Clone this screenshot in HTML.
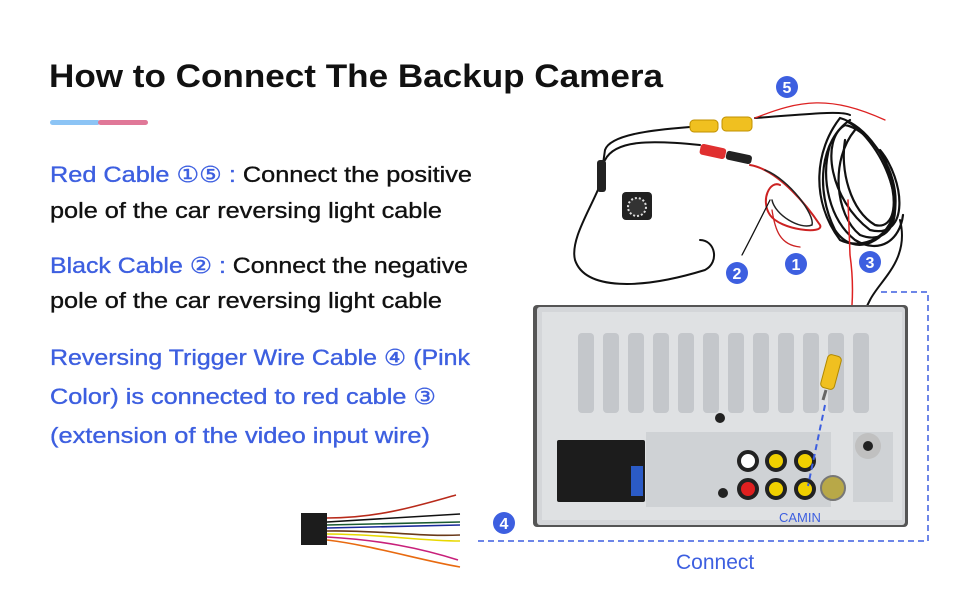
<!DOCTYPE html>
<html><head><meta charset="utf-8"><style>
html,body{margin:0;padding:0;background:#fff;}
svg{display:block;font-family:"Liberation Sans","DejaVu Sans",sans-serif;}
</style></head><body>
<svg width="970" height="600" viewBox="0 0 970 600" xmlns="http://www.w3.org/2000/svg">
<rect width="970" height="600" fill="#fff"/>
<text x="49" y="87" font-size="32" font-weight="bold" fill="#111" textLength="614" lengthAdjust="spacingAndGlyphs">How to Connect The Backup Camera</text>
<rect x="50" y="120" width="50" height="5" rx="2.5" fill="#8cc4f5"/>
<rect x="98" y="120" width="50" height="5" rx="2.5" fill="#e07898"/>
<g font-size="22" stroke-width="0.35">
<text x="50" y="182" textLength="422" lengthAdjust="spacingAndGlyphs"><tspan fill="#3d5fe0" stroke="#3d5fe0">Red Cable ①⑤ </tspan><tspan fill="#3d5fe0" stroke="#3d5fe0"> : </tspan><tspan fill="#111" stroke="#111">Connect the positive</tspan></text>
<text x="50" y="218" fill="#111" stroke="#111" textLength="392" lengthAdjust="spacingAndGlyphs">pole of the car reversing light cable</text>
<text x="50" y="273" textLength="418" lengthAdjust="spacingAndGlyphs"><tspan fill="#3d5fe0" stroke="#3d5fe0">Black Cable ② : </tspan><tspan fill="#111" stroke="#111">Connect the negative</tspan></text>
<text x="50" y="308" fill="#111" stroke="#111" textLength="392" lengthAdjust="spacingAndGlyphs">pole of the car reversing light cable</text>
<text x="50" y="365" fill="#3d5fe0" stroke="#3d5fe0" textLength="420" lengthAdjust="spacingAndGlyphs">Reversing Trigger Wire Cable ④ (Pink</text>
<text x="50" y="404" fill="#3d5fe0" stroke="#3d5fe0" textLength="386" lengthAdjust="spacingAndGlyphs">Color) is connected to red cable ③</text>
<text x="50" y="443" fill="#3d5fe0" stroke="#3d5fe0" textLength="380" lengthAdjust="spacingAndGlyphs">(extension of the video input wire)</text>
</g>
<g fill="none" stroke-linecap="round">
<path d="M690 127 C650 130 610 135 605 150 L600 185 C590 210 570 240 575 260 C585 290 640 290 705 270 C720 262 715 240 700 240" stroke="#111" stroke-width="2"/>
<path d="M700 145 C650 140 615 140 605 160" stroke="#111" stroke-width="2"/>
<path d="M755 118 C800 115 840 110 850 115" stroke="#111" stroke-width="2"/>
<path d="M755 118 C800 100 830 95 885 120" stroke="#d22" stroke-width="1.3"/>
<path d="M750 165 C780 170 810 210 820 225 C825 235 780 230 770 215 C760 200 770 180 780 185" stroke="#c22" stroke-width="2"/>
<path d="M765 170 C790 180 815 215 812 225 C800 230 775 215 772 200" stroke="#222" stroke-width="1.5"/>
<path d="M770 200 C760 220 750 240 742 255" stroke="#111" stroke-width="1.3"/>
<path d="M772 210 C775 230 780 245 800 247" stroke="#c22" stroke-width="1.3"/>
<g stroke="#111" stroke-width="2.2">
<path d="M850 120 C820 140 815 190 835 230 C855 260 890 240 895 210 C900 170 870 130 845 125 C820 140 830 200 870 230 C910 240 905 180 880 150"/>
<path d="M840 118 C815 150 810 200 840 240 C860 250 895 240 895 200 C892 160 865 125 840 118"/>
<path d="M855 130 C830 160 835 215 860 235 C885 245 905 225 890 180 C880 150 860 128 848 122"/>
<path d="M830 145 C820 180 830 220 855 240 C880 255 900 240 903 215"/>
<path d="M845 140 C840 170 850 210 875 225 C895 230 900 200 885 165"/>
</g>
<path d="M900 220 C910 260 880 280 870 300 C860 320 850 340 840 355" stroke="#111" stroke-width="2"/>
<path d="M848 200 L850 255 C855 290 852 320 845 355" stroke="#d22" stroke-width="1.5"/>
</g>
<rect x="690" y="120" width="28" height="12" rx="4" fill="#f0c020" stroke="#c09000"/>
<rect x="722" y="117" width="30" height="14" rx="4" fill="#f0c020" stroke="#c09000"/>
<rect x="700" y="146" width="26" height="11" rx="3" fill="#e03030" transform="rotate(12 713 151)"/>
<rect x="726" y="153" width="26" height="9" rx="3" fill="#222" transform="rotate(12 739 157)"/>
<rect x="597" y="160" width="9" height="32" rx="3" fill="#222"/>
<rect x="622" y="192" width="30" height="28" rx="4" fill="#222"/>
<circle cx="637" cy="207" r="9" fill="#333" stroke="#ddd" stroke-width="2" stroke-dasharray="2 2"/>
<g font-size="16" font-weight="bold" fill="#fff" text-anchor="middle">
<circle cx="787" cy="87" r="11" fill="#3d5fe0"/><text x="787" y="93">5</text>
<circle cx="796" cy="264" r="11" fill="#3d5fe0"/><text x="796" y="270">1</text>
<circle cx="737" cy="273" r="11" fill="#3d5fe0"/><text x="737" y="279">2</text>
<circle cx="870" cy="262" r="11" fill="#3d5fe0"/><text x="870" y="268">3</text>
<circle cx="504" cy="523" r="11" fill="#3d5fe0"/><text x="504" y="529">4</text>
</g>
<rect x="533" y="305" width="375" height="222" rx="4" fill="#555"/>
<rect x="537" y="307" width="368" height="218" rx="3" fill="#d4d6d9"/>
<rect x="542" y="312" width="360" height="208" fill="#dfe1e3"/>
<g fill="#c4c7cb">
<rect x="578" y="333" width="16" height="80" rx="4"/><rect x="603" y="333" width="16" height="80" rx="4"/><rect x="628" y="333" width="16" height="80" rx="4"/><rect x="653" y="333" width="16" height="80" rx="4"/><rect x="678" y="333" width="16" height="80" rx="4"/><rect x="703" y="333" width="16" height="80" rx="4"/><rect x="728" y="333" width="16" height="80" rx="4"/><rect x="753" y="333" width="16" height="80" rx="4"/><rect x="778" y="333" width="16" height="80" rx="4"/><rect x="803" y="333" width="16" height="80" rx="4"/><rect x="828" y="333" width="16" height="80" rx="4"/><rect x="853" y="333" width="16" height="80" rx="4"/>
</g>
<rect x="646" y="432" width="185" height="75" fill="#cfd2d5"/>
<rect x="853" y="432" width="40" height="70" fill="#cfd2d5"/>
<circle cx="868" cy="446" r="13" fill="#c0c0c0"/><circle cx="868" cy="446" r="5" fill="#222"/>
<circle cx="720" cy="418" r="5" fill="#222"/>
<circle cx="723" cy="493" r="5" fill="#222"/>
<rect x="557" y="440" width="88" height="62" rx="2" fill="#1c1c1c"/>
<rect x="631" y="466" width="12" height="30" fill="#2b5bc6"/>
<g stroke="#222" stroke-width="4" fill="#fff">
<circle cx="748" cy="461" r="9"/><circle cx="776" cy="461" r="9" fill="#f0d000"/><circle cx="805" cy="461" r="9" fill="#f0d000"/>
<circle cx="748" cy="489" r="9" fill="#e02020"/><circle cx="776" cy="489" r="9" fill="#f0d000"/><circle cx="805" cy="489" r="9" fill="#f0d000"/>
</g>
<circle cx="833" cy="488" r="12" fill="#b8a848" stroke="#777" stroke-width="2"/>
<rect x="824" y="355" width="14" height="34" rx="4" fill="#f0c020" stroke="#b08800" transform="rotate(15 831 372)"/>
<line x1="826" y1="390" x2="823" y2="400" stroke="#666" stroke-width="3"/>
<line x1="825" y1="405" x2="808" y2="486" stroke="#3d5fe0" stroke-width="2" stroke-dasharray="6 4"/>
<text x="779" y="522" font-size="13" fill="#3d5fe0">CAMIN</text>
<path d="M478 541 L928 541 L928 292 L880 292" fill="none" stroke="#3d5fe0" stroke-width="1.5" stroke-dasharray="6 4"/>
<text x="676" y="569" font-size="21" fill="#3d5fe0">Connect</text>
<rect x="301" y="513" width="26" height="32" fill="#1c1c1c"/>
<g fill="none" stroke-width="1.6">
<path d="M327 518 C380 518 420 505 456 495" stroke="#b82a1a"/>
<path d="M327 522 L460 514" stroke="#111"/>
<path d="M327 525 L460 522" stroke="#1a5a30"/>
<path d="M327 528 L460 525" stroke="#1a2a9a"/>
<path d="M327 531 C380 530 420 537 460 535" stroke="#6a3a1a"/>
<path d="M327 534 C380 534 420 541 460 541" stroke="#e8d800"/>
<path d="M327 537 C380 540 420 548 458 560" stroke="#c8207a"/>
<path d="M327 540 C370 545 420 560 460 567" stroke="#e86a10"/>
</g>
</svg>
</body></html>
